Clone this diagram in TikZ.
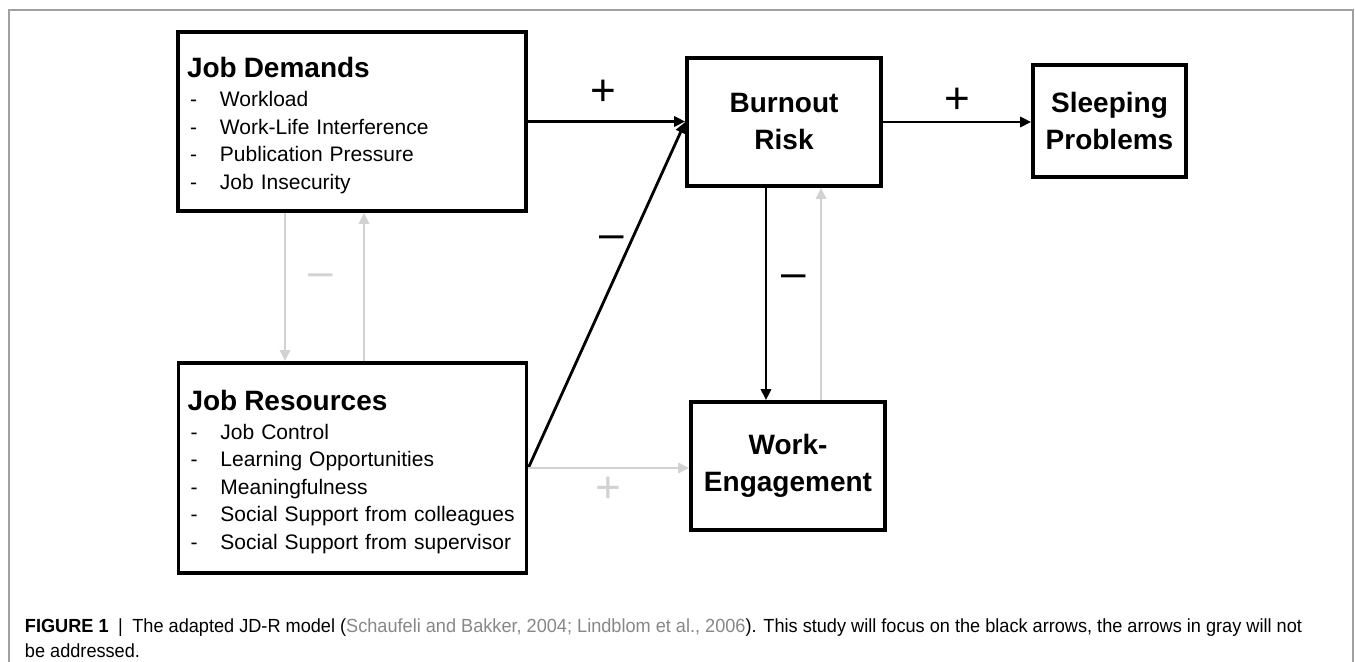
\documentclass[tikz,border=0pt]{standalone}
\usepackage{fontspec}
\setmainfont{Liberation Sans}
\newfontfamily\captionfont[FakeStretch=0.955]{Liberation Sans}
\usetikzlibrary{arrows.meta}
\definecolor{lightarrow}{RGB}{210,210,210}
\definecolor{citegray}{RGB}{135,135,135}
\definecolor{framegray}{RGB}{160,160,160}
\newcommand{\listline}[1]{\hspace*{1.5pt}\makebox[15pt][l]{-}#1}
\newcommand{\listhead}[1]{{\fontsize{14}{14}\selectfont\bfseries\rule{0pt}{14pt}#1}}

\begin{document}
\begin{tikzpicture}[x=0.5pt,y=-0.5pt,inner sep=0pt,outer sep=0pt,
modelbox/.style={draw,rectangle,line width=1.8pt,outer sep=0.9pt,align=center,font=\fontsize{14}{18.5}\selectfont\bfseries},
listbox/.style={draw,rectangle,line width=1.8pt,outer sep=0.9pt,inner xsep=4.5pt,text width=165pt,align=left,font=\fontsize{10.5}{13.75}\selectfont},
blackarrow/.style={-{Triangle[length=5.5pt,width=5pt]},line width=1.4pt},
grayarrow/.style={-{Triangle[length=5.5pt,width=5pt]},line width=1.3pt,lightarrow},
possign/.style={font=\fontsize{22}{22}\selectfont},
negsign/.style={font=\fontsize{22}{22}\selectfont,yshift=-3.25pt}]

\useasboundingbox (0,0) rectangle (1355,662);
\draw[framegray,line width=0.75pt] (9,662) -- (9,10) -- (1353,10) -- (1353,662);

\draw (352,121.5) node[listbox,minimum height=89.5pt] (demands) {\listhead{Job Demands}\\[0.75pt]
\listline{Workload}\\ \listline{Work-Life Interference}\\ \listline{Publication Pressure}\\ \listline{Job Insecurity}};
\draw (352.5,468) node[listbox,minimum height=105pt] (resources) {\listhead{Job Resources}\\[0.75pt]
\listline{Job Control}\\ \listline{Learning Opportunities}\\ \listline{Meaningfulness}\\ \listline{Social Support from colleagues}\\ \listline{Social Support from supervisor}};
\draw (784,122) node[modelbox,minimum width=97pt,minimum height=64pt] (burnout) {Burnout\\Risk};
\draw (1109.5,121) node[modelbox,minimum width=76.5pt,minimum height=56pt] (sleep) {Sleeping\\Problems};
\draw (788,466) node[modelbox,minimum width=97pt,minimum height=64pt] (engage) {Work-\\Engagement};

% black paths
\draw[blackarrow] (demands.east) -- (demands.east -| burnout.west) node[possign,pos=0.48,yshift=14.5pt] (plusdb) {+};
\draw[blackarrow] (resources.east) -- (burnout.west) node[negsign,pos=0.67,xshift=-11pt] (minusrb) {–};
\draw[blackarrow] ([xshift=-9pt]burnout.south) -- ([xshift=-9pt]burnout.south |- engage.north) node[negsign,pos=0.41,xshift=14pt] (minusbe) {–};
\draw[blackarrow] (burnout.east) -- (burnout.east -| sleep.west) node[possign,pos=0.5,yshift=10.5pt] (plusbs) {+};

% gray paths
\draw[grayarrow] (resources.east) -- (resources.east -| engage.west) node[possign,pos=0.5,yshift=-11pt] (plusre) {+};
\draw[grayarrow] ([xshift=18.5pt]burnout.south |- engage.north) -- ([xshift=18.5pt]burnout.south);
\draw[grayarrow] ([xshift=-33.5pt]demands.south) -- ([xshift=-33.5pt]demands.south |- resources.north) node[negsign,pos=0.41,xshift=18pt] (minusdr) {–};
\draw[grayarrow] ([xshift=6pt]demands.south |- resources.north) -- ([xshift=6pt]demands.south);

% caption
\draw (25,632) node[anchor=base west,font=\captionfont\fontsize{9.5}{12.5}\selectfont] (caption1) {\textbf{FIGURE 1}\enspace|\enspace The adapted JD-R model (\textcolor{citegray}{Schaufeli and Bakker, 2004; Lindblom et al., 2006}). This study will focus on the black arrows, the arrows in gray will not};
\draw (25,657) node[anchor=base west,font=\captionfont\fontsize{9.5}{12.5}\selectfont] (caption2) {be addressed.};

\end{tikzpicture}
\end{document}
